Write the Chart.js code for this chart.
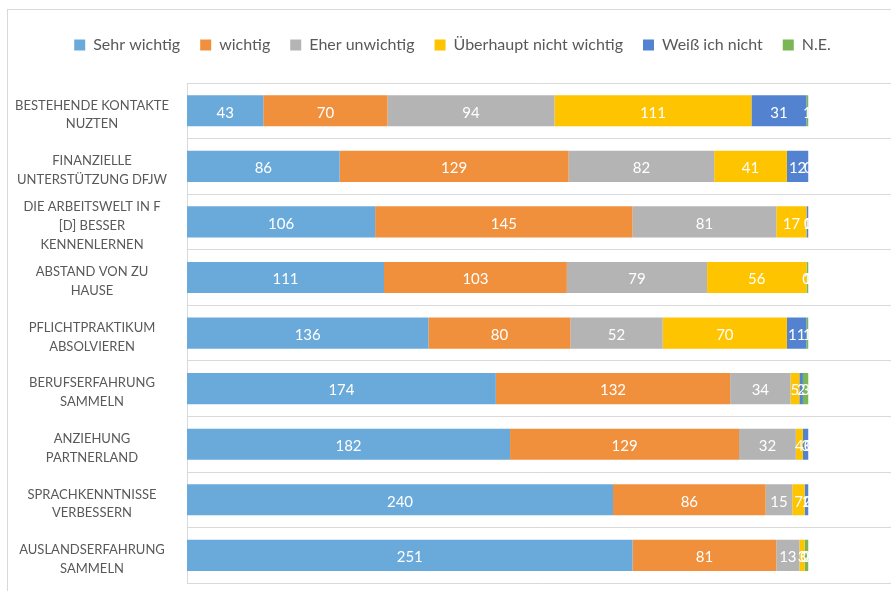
<!DOCTYPE html>
<html>
<head>
<meta charset="utf-8">
<script src="https://cdn.jsdelivr.net/npm/chart.js@4.4.1/dist/chart.umd.min.js"></script>
<style>
  html, body { margin: 0; padding: 0; background: #fff; overflow: hidden; }
  #frame { position: absolute; left: 7px; top: 9px; width: 900px; height: 640px;
           border: 1px solid #d9d9d9; box-sizing: border-box; }
  #wrap { position: absolute; left: 0; top: 0; width: 889px; height: 610px; }
</style>
</head>
<body>
<div id="frame"><div id="wrap"><canvas id="c"></canvas></div></div>
<script>
// Reasons for a stay abroad, number of answers per rating
const categories = [
  ['BESTEHENDE KONTAKTE', 'NUZTEN'],
  ['FINANZIELLE', 'UNTERSTÜTZUNG DFJW'],
  ['DIE ARBEITSWELT IN F', '[D] BESSER', 'KENNENLERNEN'],
  ['ABSTAND VON ZU', 'HAUSE'],
  ['PFLICHTPRAKTIKUM', 'ABSOLVIEREN'],
  ['BERUFSERFAHRUNG', 'SAMMELN'],
  ['ANZIEHUNG', 'PARTNERLAND'],
  ['SPRACHKENNTNISSE', 'VERBESSERN'],
  ['AUSLANDSERFAHRUNG', 'SAMMELN']
];
const seriesNames = ['Sehr wichtig', 'wichtig', 'Eher unwichtig', 'Überhaupt nicht wichtig', 'Weiß ich nicht', 'N.E.'];
const sehrWichtig     = [43, 86, 106, 111, 136, 174, 182, 240, 251];
const wichtig         = [70, 129, 145, 103, 80, 132, 129, 86, 81];
const eherUnwichtig   = [94, 82, 81, 79, 52, 34, 32, 15, 13];
const ueberhauptNicht = [111, 41, 17, 56, 70, 5, 4, 7, 3];
const weissNicht      = [31, 12, 1, 0, 11, 2, 3, 2, 0];
const keineAngabe     = [1, 0, 0, 1, 1, 3, 0, 0, 2];
const seriesValues = [sehrWichtig, wichtig, eherUnwichtig, ueberhauptNicht, weissNicht, keineAngabe];
const seriesColors = ['#6aaadb', '#f0903c', '#b4b4b4', '#ffc400', '#5383d0', '#7bb655'];

const FONT = 'Lato, "Open Sans", sans-serif';

// Writes each segment's value in white at the middle of the segment
const segmentLabels = {
  id: 'segmentLabels',
  afterDatasetsDraw(chart) {
    const ctx = chart.ctx;
    ctx.save();
    ctx.fillStyle = '#ffffff';
    ctx.font = '15px ' + FONT;
    ctx.textAlign = 'center';
    ctx.textBaseline = 'middle';
    chart.data.datasets.forEach((ds, di) => {
      const meta = chart.getDatasetMeta(di);
      meta.data.forEach((bar, i) => {
        const p = bar.getProps(['x', 'y', 'base'], true);
        ctx.fillText(String(ds.data[i]), (p.x + p.base) / 2, p.y + 2);
      });
    });
    ctx.restore();
  }
};

new Chart(document.getElementById('c'), {
  type: 'bar',
  data: {
    labels: categories,
    datasets: seriesNames.map((name, k) => ({
      label: name,
      data: seriesValues[k],
      backgroundColor: seriesColors[k],
      borderWidth: 0,
      barPercentage: 0.56,
      categoryPercentage: 1
    }))
  },
  options: {
    indexAxis: 'y',
    responsive: true,
    maintainAspectRatio: false,
    animation: false,
    layout: { padding: { left: 0, right: 0, top: 7, bottom: 0 } },
    plugins: {
      legend: {
        position: 'top',
        labels: {
          boxWidth: 11,
          boxHeight: 11,
          padding: 20,
          color: '#595959',
          font: { family: FONT, size: 16 }
        }
      },
      tooltip: { enabled: false }
    },
    scales: {
      x: {
        stacked: true,
        min: 0,
        max: 400,
        position: 'top',
        grid: { display: false },
        border: { display: false },
        ticks: { display: false },
        // empty band between the legend and the bars
        afterFit(scale) { scale.height = 20; }
      },
      y: {
        stacked: true,
        grid: { color: '#d9d9d9', drawTicks: false, offset: true },
        border: { color: '#d9d9d9' },
        afterFit(scale) { scale.width = 179; },
        ticks: {
          autoSkip: false,
          color: '#595959',
          padding: 18,
          labelOffset: 4,
          crossAlign: 'center',
          font: { family: FONT, size: 13, lineHeight: 1.45 }
        }
      }
    }
  },
  plugins: [segmentLabels]
});
</script>
</body>
</html>
